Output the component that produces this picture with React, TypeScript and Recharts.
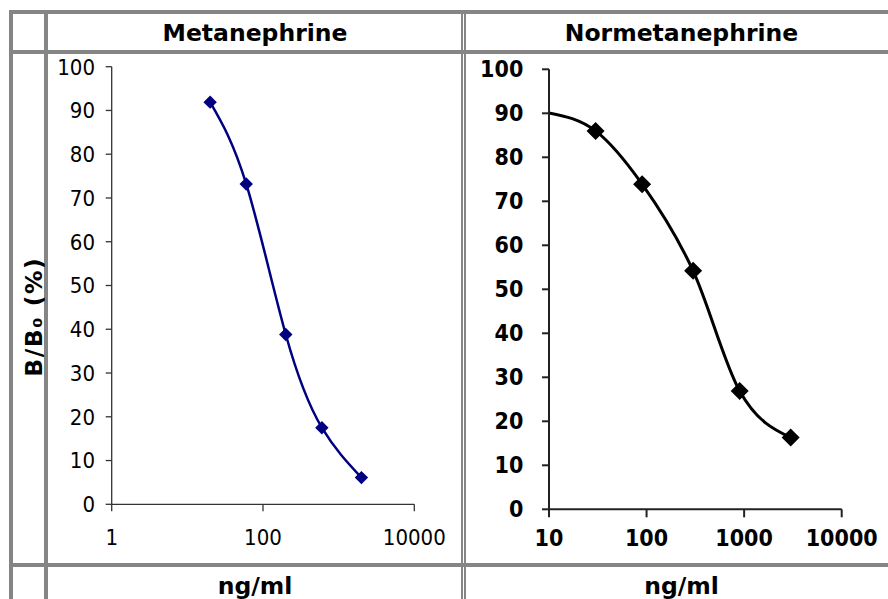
import React from "react";
import { LineChart, Line, XAxis, YAxis } from "recharts";

// Metanephrine standard curve (ng/ml vs B/B0 %)
const metaConc = [20, 60, 200, 600, 2000];
const metaBinding = [91.9, 73.2, 38.8, 17.5, 6.1];

// Normetanephrine standard curve; first point is the curve start, no marker
const normetaConc = [10, 30, 90, 300, 900, 3000];
const normetaBinding = [90.1, 86.0, 73.9, 54.2, 26.9, 16.3];
const normetaMarked = [false, true, true, true, true, true];

const metaTicks = [1, 100, 10000];
const normetaTicks = [10, 100, 1000, 10000];
const yTicks = [0, 10, 20, 30, 40, 50, 60, 70, 80, 90, 100];

const metaData = metaConc.map((x, i) => ({ x, y: metaBinding[i] }));
const normetaData = normetaConc.map((x, i) => ({ x, y: normetaBinding[i], marked: normetaMarked[i] }));

const BORDER = "#858585";
const COND = "'DejaVu Sans Condensed', 'DejaVu Sans', sans-serif";
const HEAD = "'DejaVu Sans', Verdana, sans-serif";

function diamond(r: number, fill: string) {
  return (props: any) => {
    const { cx, cy, index, payload } = props;
    if (payload && payload.marked === false) return <g key={`d${index}`} />;
    return (
      <path
        key={`d${index}`}
        d={`M${cx},${cy - r} L${cx + r},${cy} L${cx},${cy + r} L${cx - r},${cy} Z`}
        fill={fill}
      />
    );
  };
}

function Rule({ x, y, w, h }: { x: number; y: number; w: number; h: number }) {
  return <div style={{ position: "absolute", left: x, top: y, width: w, height: h, background: BORDER }} />;
}

export default function App() {
  return (
    <div style={{ position: "absolute", left: 0, top: 0, width: 888, height: 599, background: "#fff", overflow: "hidden" }}>
      {/* left chart */}
      <div style={{ position: "absolute", left: 48, top: 54 }}>
        <LineChart width={413} height={509} data={metaData} margin={{ top: 12.7, right: 46.7, bottom: 0, left: 0 }}>
          <XAxis
            dataKey="x"
            type="number"
            scale="log"
            domain={[1, 10000]}
            ticks={metaTicks}
            allowDataOverflow
            height={58.7}
            tickSize={7}
            tickMargin={17.7}
            axisLine={{ stroke: "#333", strokeWidth: 1.3 }}
            tickLine={{ stroke: "#333", strokeWidth: 1.3 }}
            tick={{ fontFamily: COND, fontSize: 22, fill: "#000" }}
          />
          <YAxis
            type="number"
            domain={[0, 100]}
            ticks={yTicks}
            width={63.7}
            tickSize={6}
            tickMargin={10.7}
            axisLine={{ stroke: "#333", strokeWidth: 1.3 }}
            tickLine={{ stroke: "#333", strokeWidth: 1.3 }}
            tick={{ fontFamily: COND, fontSize: 22, fill: "#000" }}
          />
          <Line
            dataKey="y"
            type="natural"
            stroke="#000080"
            strokeWidth={2.5}
            dot={diamond(6.7, "#000080")}
            isAnimationActive={false}
          />
        </LineChart>
      </div>

      {/* right chart */}
      <div style={{ position: "absolute", left: 466, top: 54 }}>
        <LineChart width={422} height={509} data={normetaData} margin={{ top: 15.3, right: 46.3, bottom: 0, left: 0 }}>
          <XAxis
            dataKey="x"
            type="number"
            scale="log"
            domain={[10, 10000]}
            ticks={normetaTicks}
            allowDataOverflow
            height={53.7}
            tickSize={8}
            tickMargin={12.7}
            axisLine={{ stroke: "#222", strokeWidth: 2 }}
            tickLine={{ stroke: "#222", strokeWidth: 2 }}
            tick={{ fontFamily: COND, fontSize: 23, fontWeight: "bold", fill: "#000" }}
          />
          <YAxis
            type="number"
            domain={[0, 100]}
            ticks={yTicks}
            width={83}
            tickSize={7}
            tickMargin={18.7}
            axisLine={{ stroke: "#222", strokeWidth: 2 }}
            tickLine={{ stroke: "#222", strokeWidth: 2 }}
            tick={{ fontFamily: COND, fontSize: 23, fontWeight: "bold", fill: "#000" }}
          />
          <Line
            dataKey="y"
            type="monotone"
            stroke="#000"
            strokeWidth={3}
            dot={diamond(9, "#000")}
            isAnimationActive={false}
          />
        </LineChart>
      </div>

      {/* table rules */}
      <Rule x={9} y={10} w={4} h={589} />
      <Rule x={44} y={10} w={4} h={589} />
      <Rule x={461} y={10} w={1.5} h={589} />
      <Rule x={464} y={10} w={1.5} h={589} />
      <Rule x={9} y={10} w={879} h={4} />
      <Rule x={9} y={50} w={879} h={4} />
      <Rule x={9} y={563} w={879} h={4} />

      {/* texts */}
      <svg width={888} height={599} style={{ position: "absolute", left: 0, top: 0, pointerEvents: "none" }}>
        <g fontFamily={HEAD} fontWeight="bold" fontSize={23.5} fill="#000" textAnchor="middle">
          <text x={255} y={41.3}>Metanephrine</text>
          <text x={681.5} y={41.3}>Normetanephrine</text>
          <text x={255} y={594}>ng/ml</text>
          <text x={681.5} y={594}>ng/ml</text>
          <text x={41.7} y={316.7} transform="rotate(-90 41.7 316.7)" letterSpacing={1.5}>
            B/B₀ (%)
          </text>
        </g>
      </svg>
    </div>
  );
}
